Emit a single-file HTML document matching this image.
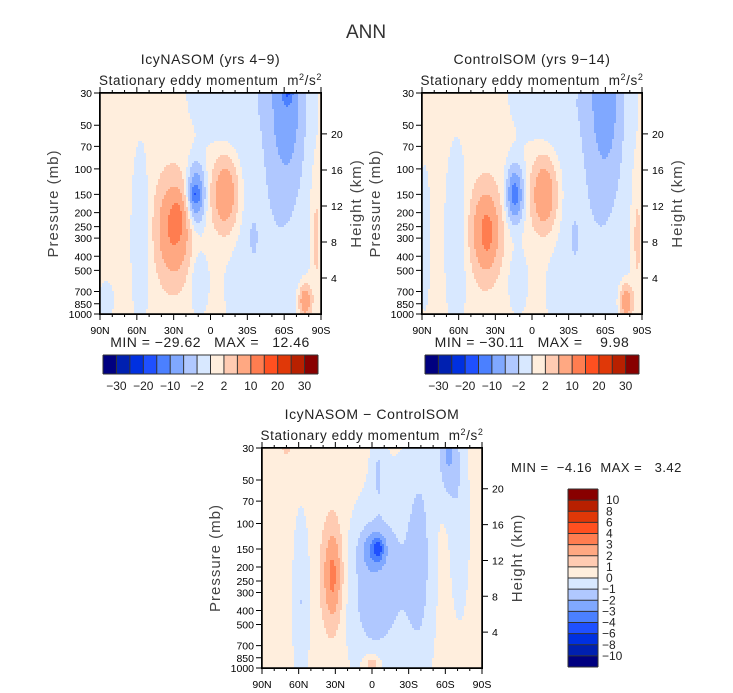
<!DOCTYPE html>
<html><head><meta charset="utf-8">
<style>
html,body{margin:0;padding:0;background:#fff;}
svg{display:block;font-family:"Liberation Sans",sans-serif;}
text{white-space:pre;}
.frame{position:absolute;border:1.5px solid #000;box-sizing:border-box;pointer-events:none;}
</style></head>
<body style="position:relative;width:733px;height:693px;">
<svg id="fig" width="733" height="693" viewBox="0 0 733 693" xmlns="http://www.w3.org/2000/svg">
<text x="366" y="38" text-anchor="middle" font-size="19" fill="#333">ANN</text>
<g id="layer"></g>
<g id="ticks"></g>
<g fill="none" stroke="#000" stroke-width="1.5">
<rect x="100" y="93" width="221" height="221"/>
<rect x="422" y="93" width="220" height="221"/>
<rect x="262" y="448" width="220" height="220"/>
</g>
</svg>
<div class="frame" style="left:99px;top:92px;width:223px;height:223px"></div>
<div class="frame" style="left:421px;top:92px;width:222px;height:223px"></div>
<div class="frame" style="left:261px;top:447px;width:222px;height:222px"></div>
<script>
// ---- data ----
const pressureTicks = [30,50,70,100,150,200,250,300,400,500,700,850,1000];
const heightTicks = [4,8,12,16,20];
const latTicks = [90,60,30,0,-30,-60,-90];
const latTickLabels = ["90N","60N","30N","0","30S","60S","90S"];
const absLevels = [-30,-25,-20,-15,-10,-5,-2,0,2,5,10,15,20,25,30];
const absLabels = ["-30","-20","-10","-2","2","10","20","30"];
const diffLevels = [-10,-8,-6,-4,-3,-2,-1,0,1,2,3,4,6,8,10];
const diffLabels = ["10","8","6","4","3","2","1","0","-1","-2","-3","-4","-6","-8","-10"];
const palette = ["#000080","#0020b0","#0030e0","#1f50ff","#4b80ff","#80a8ff","#b0c8ff","#d8e8ff","#ffeedd","#ffcbb2","#ffa882","#ff7d50","#ff5020","#e03808","#b82000","#880000"];
// blobs: [lat, pressure(mb), amplitude, sigmaLat(deg), sigmaLog10p]
const baseIcy = 0.9;
const blobsIcy = [
 [57,300,-2.2,6,0.5],[30,260,10,9,0.22],[27,220,5,3.5,0.08],
 [12,150,-10,5,0.14],[12,150,-7,2.5,0.05],[10,600,-2.5,5,0.15],
 [-12,150,9,7,0.17],[-50,250,-2.5,28,1.2],[-62,30,-8,9,0.4],
 [-63,30,-7,3,0.05],[-77,820,9,3.5,0.08],[-86,300,2.8,3,0.3],
 [-10,30,-2,22,0.25],[85,800,-2,5,0.1],[-35,300,-2,2,0.08]];
const baseCtl = 0.9;
const blobsCtl = [
 [62,300,-2.4,7,0.5],[38,270,9,8,0.2],[36,280,3,4,0.12],
 [14,150,-9,5,0.14],[14,150,-5,2.5,0.07],[12,600,-2.5,5,0.15],
 [-10,150,9,7,0.17],[-50,250,-2.5,28,1.2],[-60,30,-7,9,0.4],
 [-77,820,9,3.5,0.08],[-86,300,2.8,3,0.3],[-10,30,-2,22,0.25],
 [88,300,-2,4,0.4],[-35,300,-2,2,0.08]];
const baseDiff = 0.5;
const blobsDiff = [
 [5,300,-1.4,14,0.4],[-20,250,-1.3,18,0.6],[58,350,-1.5,5,0.45],
 [32,230,3,6,0.25],[-2,150,-2,8,0.1],[-5,150,-1.8,3,0.05],
 [-62,30,-2.5,6,0.25],[-40,150,-1.3,8,0.6],[-72,100,-1.2,6,0.5],
 [0,930,2,5,0.05],[-5,40,-1.1,4,0.2],[70,30,0.8,3,0.05]];

// ---- helpers ----
const NS="http://www.w3.org/2000/svg";
const layer=document.getElementById('layer');
const tickLayer=document.getElementById('ticks');
function mk(tag,attrs,parent){const e=document.createElementNS(NS,tag);for(const k in attrs)e.setAttribute(k,attrs[k]);(parent||layer).appendChild(e);return e;}
function field(base,blobs,lat,p){let v=base;const lp=Math.log10(p);for(const b of blobs){const dl=(lat-b[0])/b[3];const dz=(lp-Math.log10(b[1]))/b[4];v+=b[2]*Math.exp(-0.5*(dl*dl+dz*dz));}return v;}
function colorFor(v,levels){let i=0;while(i<levels.length&&v>=levels[i])i++;return palette[i];}
function addPath(d,name,color,width){const p=document.createElementNS(NS,'path');
 p.setAttribute('d',d);p.setAttribute('fill','none');p.setAttribute('stroke',color||'#000');p.setAttribute('stroke-width',width||1);
 
 
 tickLayer.appendChild(p);}

function panel(opt){
 const {x0,y0,w,h,base,blobs,levels,name}=opt;
 const g=mk('g',{});
 
 
 const xs=lat=>x0+(90-lat)/180*w;
 const ys=p=>y0+Math.log10(p/30)/Math.log10(1000/30)*h;
 const pAt=y=>30*Math.pow(1000/30,(y-y0)/h);
 const latAt=x=>90-(x-x0)/w*180;
 const cell=2;
 const cg=mk('g',{'shape-rendering':'crispEdges'},g);
 
 
 for(let yy=0;yy<h;yy+=cell){
  const p=pAt(y0+yy+cell/2);
  let runStart=0,runCol=null;
  for(let xx=0;xx<w+cell;xx+=cell){
   let col=null;
   if(xx<w){col=colorFor(field(base,blobs,latAt(x0+xx+cell/2),p),levels);}
   if(col!==runCol){
    if(runCol!==null){const r=mk('rect',{x:x0+runStart,y:y0+yy,width:Math.min(xx,w)-runStart,height:Math.min(cell,h-yy),fill:runCol},cg);
     
     }
    runStart=xx;runCol=col;
   }
  }
 }
 let d='';
 pressureTicks.forEach(p=>{const y=ys(p);d+=`M${x0-6} ${y}H${x0}`;});
 heightTicks.forEach(z=>{const y=ys(1000*Math.exp(-z/7));d+=`M${x0+w} ${y}H${x0+w+6}`;});
 for(let lat=90;lat>=-90;lat-=10){const x=xs(lat);const L=lat%30===0?6:3;d+=`M${x} ${y0+h}V${y0+h+L}M${x} ${y0}V${y0-L}`;}
 addPath(d,name+'-ticks','#000',1);
 const ax=mk('g',{},g);
 
 
 pressureTicks.forEach(p=>{const y=ys(p);
  const t=mk('text',{x:x0-8,y:y+4,'text-anchor':'end','font-size':10.5,fill:'#000'},ax);t.textContent=p;
  
  });
 heightTicks.forEach(z=>{const p=1000*Math.exp(-z/7);const y=ys(p);
  const t=mk('text',{x:x0+w+10,y:y+4,'font-size':10.5,fill:'#000'},ax);t.textContent=z;
  
  });
 latTicks.forEach((lat,i)=>{const t=mk('text',{x:xs(lat),y:y0+h+20,'text-anchor':'middle','font-size':10.5,fill:'#000'},ax);t.textContent=latTickLabels[i];
  
  });
 const yt=mk('text',{transform:`translate(${x0-42},${y0+h/2}) rotate(-90)`,'text-anchor':'middle','font-size':15,'letter-spacing':'1',fill:'#444'},g);yt.textContent='Pressure (mb)';
 
 
 const ht=mk('text',{transform:`translate(${x0+w+40},${y0+h/2}) rotate(-90)`,'text-anchor':'middle','font-size':15,'letter-spacing':'1',fill:'#444'},g);ht.textContent='Height (km)';
 
 
 const st=mk('text',{x:x0+w/2,y:y0-8,'text-anchor':'middle','font-size':13.5,'letter-spacing':'0.6',fill:'#222'},g);
 st.innerHTML='Stationary eddy momentum  m<tspan dy="-5" font-size="9">2</tspan><tspan dy="5">/s</tspan><tspan dy="-5" font-size="9">2</tspan>';
 
 
 const tt=mk('text',{x:x0+w/2,y:y0-29,'text-anchor':'middle','font-size':14,'letter-spacing':'0.6',fill:'#222'},g);tt.textContent=opt.title;
 
 
 return g;
}
function hbar(x0,y0,w,h,name){
 const g=mk('g',{});
 
 
 const bw=w/palette.length;
 palette.forEach((c,i)=>{const r=mk('rect',{x:x0+i*bw,y:y0,width:bw,height:h,fill:c},g);
  
  });
 let d=`M${x0} ${y0}H${x0+w}M${x0} ${y0+h}H${x0+w}`;
 for(let i=0;i<=palette.length;i++)d+=`M${x0+i*bw} ${y0}V${y0+h}`;
 addPath(d,name+'-outline','#333',1);
 absLabels.forEach((l,i)=>{const t=mk('text',{x:x0+(2*i+1)*bw,y:y0+h+16,'text-anchor':'middle','font-size':12,fill:'#222'},g);t.textContent=l.replace('-','\u2212');
  
  });
}
function vbar(x0,y0,w,h,name){
 const g=mk('g',{});
 
 
 const bh=h/palette.length;
 palette.slice().reverse().forEach((c,i)=>{const r=mk('rect',{x:x0,y:y0+i*bh,width:w,height:bh,fill:c},g);
  
  });
 let d=`M${x0} ${y0}V${y0+h}M${x0+w} ${y0}V${y0+h}`;
 for(let i=0;i<=palette.length;i++)d+=`M${x0} ${y0+i*bh}H${x0+w}`;
 addPath(d,name+'-outline','#333',1);
 diffLabels.forEach((l,i)=>{const t=mk('text',{x:x0+w+(l[0]==='-'?4:8),y:y0+(i+1)*bh+4,'font-size':12,fill:'#222'},g);t.textContent=l.replace('-','\u2212');
  
  });
}
function label(x,y,txt,name,anchor,fs){const t=mk('text',{x:x,y:y,'text-anchor':anchor||'middle','font-size':fs||14,'letter-spacing':'0.5',fill:'#222'});t.textContent=txt;
 
 }

panel({x0:100,y0:93,w:221,h:221,base:baseIcy,blobs:blobsIcy,levels:absLevels,name:'icynasom-panel',title:'IcyNASOM (yrs 4\u22129)'});
panel({x0:422,y0:93,w:220,h:221,base:baseCtl,blobs:blobsCtl,levels:absLevels,name:'controlsom-panel',title:'ControlSOM (yrs 9\u221214)'});
panel({x0:262,y0:448,w:220,h:220,base:baseDiff,blobs:blobsDiff,levels:diffLevels,name:'difference-panel',title:'IcyNASOM \u2212 ControlSOM'});
label(210,347,'MIN = \u221229.62   MAX =   12.46','icynasom-min-max');
label(532,347,'MIN = \u221230.11   MAX =    9.98','controlsom-min-max');
label(511,472,'MIN =  \u22124.16  MAX =   3.42','difference-min-max','start',13);
hbar(103,355,215,19,'icynasom-colorbar');
hbar(425,355,214,19,'controlsom-colorbar');
vbar(568,489,30,178,'difference-colorbar');
</script>
</body></html>
